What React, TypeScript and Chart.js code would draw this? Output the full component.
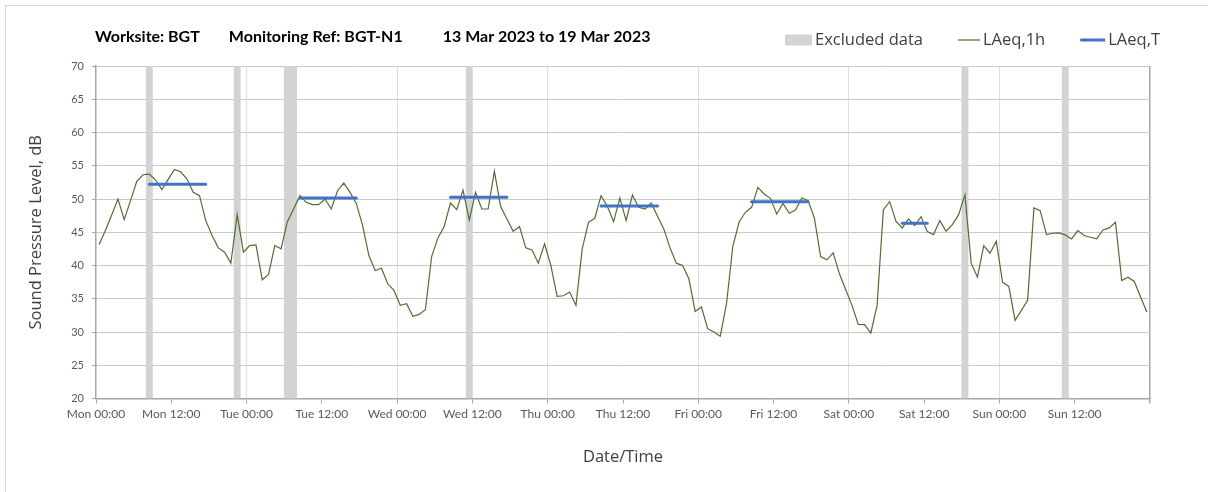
import React, { useEffect, useRef } from 'react';
import { Chart, registerables } from 'chart.js';

Chart.register(...registerables);

// ---------- data ----------
const xTickLabels = [
  'Mon 00:00', 'Mon 12:00', 'Tue 00:00', 'Tue 12:00', 'Wed 00:00', 'Wed 12:00',
  'Thu 00:00', 'Thu 12:00', 'Fri 00:00', 'Fri 12:00', 'Sat 00:00', 'Sat 12:00',
  'Sun 00:00', 'Sun 12:00', '',
];

// hourly LAeq,1h values, hour 0 = Mon 00:00
const laeq1h = [
  43.15, 45.25, 47.6, 50.0, 46.9, 49.75, 52.65, 53.65, 53.75, 52.85, 51.4, 52.95,
  54.45, 54.1, 53.0, 51.0, 50.5, 46.75, 44.5, 42.65, 42.0, 40.35, 47.65, 42.0,
  43.0, 43.1, 37.85, 38.65, 43.0, 42.5, 46.6, 48.5, 50.5, 49.5, 49.15, 49.15,
  50.0, 48.5, 51.25, 52.4, 51.0, 49.3, 46.0, 41.5, 39.25, 39.6, 37.25, 36.25,
  34.0, 34.25, 32.35, 32.65, 33.35, 41.35, 44.15, 45.85, 49.4, 48.4, 51.35, 46.85,
  51.0, 48.5, 48.5, 54.15, 48.85, 47.0, 45.15, 45.85, 42.65, 42.35, 40.35, 43.25,
  40.0, 35.35, 35.45, 36.0, 34.0, 42.5, 46.5, 47.1, 50.5, 48.9, 46.6, 50.15,
  46.75, 50.6, 48.75, 48.5, 49.4, 47.4, 45.5, 42.65, 40.35, 40.0, 38.0, 33.1,
  33.75, 30.5, 30.0, 29.35, 34.25, 42.85, 46.5, 48.0, 48.75, 51.75, 50.75, 50.1,
  47.75, 49.35, 47.85, 48.35, 50.15, 49.75, 47.15, 41.35, 40.85, 41.9, 38.75, 36.35,
  34.0, 31.15, 31.1, 29.85, 34.0, 48.4, 49.6, 46.65, 45.65, 47.0, 46.0, 47.35,
  45.1, 44.65, 46.75, 45.15, 46.15, 47.65, 50.65, 40.35, 38.25, 43.0, 41.85, 43.65,
  37.5, 36.85, 31.75, 33.25, 34.75, 48.65, 48.25, 44.65, 44.85, 44.9, 44.6, 44.0,
  45.25, 44.5, 44.25, 44.0, 45.35, 45.65, 46.5, 37.75, 38.25, 37.6, 35.25, 33.0,
];

// hours (from Mon 00:00) flagged as excluded
const excludedHours = [8, 22, 30, 31, 59, 138, 154];

// LAeq,T periods (first and last hour) and values
const periodStart = [8, 32, 56, 80, 104, 128];
const periodEnd = [17, 41, 65, 89, 113, 132];
const laeqT = [52.2, 50.15, 50.25, 48.95, 49.6, 46.35];

const titleParts = ['Worksite: BGT', 'Monitoring Ref: BGT-N1', '13 Mar 2023 to 19 Mar 2023'];

const yMin = 20;
const yMax = 70;
const hoursInWeek = 168;

// ---------- helpers ----------
const laeqTSeries = laeq1h.map((_, i) => {
  let y: number | null = null;
  periodStart.forEach((s, k) => {
    if (i >= s && i <= periodEnd[k]) y = laeqT[k];
  });
  return { x: i + 0.5, y };
});

const headerPlugin = {
  id: 'headerLegend',
  afterDraw(chart: any) {
    const ctx = chart.ctx as CanvasRenderingContext2D;
    ctx.save();
    ctx.textBaseline = 'middle';
    ctx.textAlign = 'left';
    // title
    ctx.fillStyle = '#000000';
    ctx.font = 'bold 16px Lato';
    const gaps = [29, 40];
    let tx = 95;
    titleParts.forEach((t, i) => {
      ctx.fillText(t, tx, 37);
      tx += ctx.measureText(t).width + (gaps[i] || 0);
    });
    // legend
    const ly = 40;
    ctx.font = '16.5px "Open Sans"';
    const ds = chart.data.datasets;
    const iconLen = (d: any, i: number) => (d.type === 'bar' ? 27 : i === 1 ? 22 : 25);
    // lay out right-to-left so the last label ends near x = 1160
    let total = 0;
    ds.forEach((d: any, i: number) => {
      total += iconLen(d, i) + 3 + ctx.measureText(d.label).width;
      if (i < ds.length - 1) total += 35;
    });
    let lx = 1160 - total;
    ds.forEach((d: any, i: number) => {
      const len = iconLen(d, i);
      if (d.type === 'bar') {
        ctx.fillStyle = d.backgroundColor;
        ctx.fillRect(lx, ly - 5.5, len, 11);
      } else {
        ctx.strokeStyle = d.borderColor;
        ctx.lineWidth = d.borderWidth;
        ctx.beginPath();
        ctx.moveTo(lx, ly);
        ctx.lineTo(lx + len, ly);
        ctx.stroke();
      }
      lx += len + 3;
      ctx.fillStyle = '#404040';
      ctx.fillText(d.label, lx, ly);
      lx += ctx.measureText(d.label).width + 35;
    });
    ctx.restore();
  },
};

export default function App() {
  const ref = useRef<HTMLCanvasElement | null>(null);

  useEffect(() => {
    if (!ref.current) return;
    const chart = new Chart(ref.current, {
      type: 'line',
      data: {
        datasets: [
          {
            type: 'bar',
            label: 'Excluded data',
            data: excludedHours.map((h) => ({ x: h + 0.5, y: [yMin, yMax] })),
            backgroundColor: '#d3d3d3',
            borderWidth: 0,
            barPercentage: 1,
            categoryPercentage: 1,
            order: 3,
          } as any,
          {
            type: 'line',
            label: 'LAeq,1h',
            data: laeq1h.map((v, i) => ({ x: i + 0.5, y: v })),
            borderColor: '#4f6f2f',
            borderWidth: 1.2,
            pointRadius: 0,
            tension: 0,
            order: 2,
          },
          {
            type: 'line',
            label: 'LAeq,T',
            data: laeqTSeries as any,
            borderColor: '#4472c4',
            borderWidth: 3,
            borderCapStyle: 'round',
            pointRadius: 0,
            spanGaps: false,
            order: 1,
          },
        ],
      },
      options: {
        animation: false,
        responsive: false,
        maintainAspectRatio: false,
        layout: { padding: { top: 66, right: 58, bottom: 0, left: 0 } },
        plugins: {
          legend: { display: false },
          tooltip: { enabled: false },
          title: { display: false },
        },
        scales: {
          x: {
            type: 'linear',
            min: 0,
            max: hoursInWeek,
            offset: false,
            ticks: {
              stepSize: 12,
              autoSkip: false,
              maxRotation: 0,
              minRotation: 0,
              color: '#595959',
              font: { family: 'Lato', size: 12 },
              padding: 3,
              callback: (v: any) => xTickLabels[Math.round(Number(v) / 12)] ?? '',
            },
            grid: {
              offset: false,
              color: (c: any) => {
                const v = c.tick ? c.tick.value : -1;
                if (v === hoursInWeek) return '#a6a6a6';
                if (v > 0 && v % 24 === 0) return '#dedede';
                return 'rgba(0,0,0,0)';
              },
              lineWidth: (c: any) => (c.tick && c.tick.value === hoursInWeek ? 1.5 : 1),
              tickColor: '#a6a6a6',
              tickLength: 5,
              drawTicks: true,
            },
            border: { color: '#a6a6a6', width: 1.5 },
            title: {
              display: true,
              text: 'Date/Time',
              color: '#404040',
              font: { family: 'Open Sans', size: 16.5 },
              padding: { top: 0, bottom: 25 },
            },
            afterFit: (s: any) => {
              s.height = 93.5;
            },
          },
          y: {
            type: 'linear',
            min: yMin,
            max: yMax,
            ticks: {
              stepSize: 5,
              color: '#595959',
              font: { family: 'Lato', size: 11 },
              padding: 8,
            },
            grid: {
              color: '#c8c8c8',
              tickColor: '#a6a6a6',
              tickLength: 4,
            },
            border: { color: '#a6a6a6', width: 1.5 },
            title: {
              display: true,
              text: 'Sound Pressure Level, dB',
              color: '#404040',
              font: { family: 'Open Sans', size: 16.5 },
              padding: { top: 26, bottom: 0 },
            },
            afterFit: (s: any) => {
              s.width = 96;
            },
          },
        },
      },
      plugins: [headerPlugin],
    });
    return () => chart.destroy();
  }, []);

  return (
    <div
      style={{
        position: 'fixed',
        left: 0,
        top: 0,
        width: 1208,
        height: 492,
        overflow: 'hidden',
        background: '#ffffff',
      }}
    >
      <div
        style={{
          position: 'absolute',
          left: 5,
          top: 5,
          width: 1300,
          height: 600,
          border: '1px solid #d9d9d9',
        }}
      />
      <canvas ref={ref} width={1208} height={492} style={{ position: 'absolute', left: 0, top: 0 }} />
    </div>
  );
}
